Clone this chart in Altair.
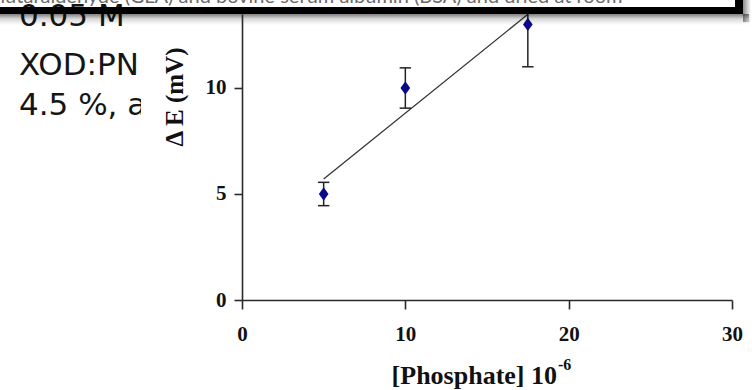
import altair as alt
import pandas as pd

# Measured response: potential change vs. phosphate concentration
conc = [5, 10, 17.5]
delta_e = [5, 10, 13]
err_low = [4.45, 9.05, 11.0]
err_high = [5.55, 10.95, 15.0]

x_ticks = [0, 10, 20, 30]
y_ticks = [0, 5, 10]

slide_lines = ["0.05 M", "XOD:PN", "4.5 %, a"]
box_caption = "glutaraldehyde (GLA) and bovine serum albumin (BSA) and dried at room"
x_title_main = "[Phosphate] 10"
x_title_exp = "-6"
y_title = "Δ E (mV)"

df = pd.DataFrame({"conc": conc, "dE": delta_e, "lo": err_low, "hi": err_high})
one = alt.Data(values=[{"k": 0}])

W, H = 490, 286
PAD_L, PAD_T = 242, 14
SERIF = "Liberation Serif"
SANS = "DejaVu Sans"

x_scale = alt.Scale(domain=[0, 30], nice=False, zero=True)
y_scale = alt.Scale(domain=[0, 13.49], nice=False, zero=True)

x_axis = alt.Axis(values=x_ticks, title=None, grid=False, format="d",
                  domainColor="#2a2a2a", domainWidth=1.6,
                  tickColor="#2a2a2a", tickWidth=1.6, tickSize=9,
                  labelFont=SERIF, labelFontWeight="bold", labelFontSize=21,
                  labelColor="#111111", labelPadding=14, labelFlush=False,
                  zindex=1)
y_axis = alt.Axis(values=y_ticks, title=None, grid=False, format="d",
                  domainColor="#2a2a2a", domainWidth=1.6,
                  tickColor="#2a2a2a", tickWidth=1.6, tickSize=8,
                  labelFont=SERIF, labelFontWeight="bold", labelFontSize=21,
                  labelColor="#111111", labelPadding=8, labelFlush=False,
                  zindex=1)


def px(x_abs):
    return x_abs - PAD_L


def py(y_abs):
    return y_abs - PAD_T


def X(field):
    return alt.X(field, scale=x_scale, axis=x_axis)


def Y(field):
    return alt.Y(field, scale=y_scale, axis=y_axis)


# slide text partly hidden behind the figure
left_y = [26, 75, 115]
left_text = [
    alt.Chart(one).mark_text(text=t, font=SANS, fontSize=31, color="#151515",
                             align="left", baseline="alphabetic")
    .encode(x=alt.value(px(19)), y=alt.value(py(yy)))
    for t, yy in zip(slide_lines, left_y)
]

caption = alt.Chart(one).mark_text(
    text=box_caption, font="Lato", fontSize=20, color="#6a6a6a",
    align="left", baseline="alphabetic"
).encode(x=alt.value(px(-10)), y=alt.value(py(3)))

# white figure background covering the slide text
mask = alt.Chart(one).mark_rect(color="white").encode(
    x=alt.value(px(141)), x2=alt.value(0),
    y=alt.value(py(20)), y2=alt.value(py(390)))

base = alt.Chart(df)

fit = base.transform_regression("conc", "dE").mark_line(
    color="#333333", strokeWidth=1.3, clip=True
).encode(x=X("conc:Q"), y=Y("dE:Q"))

bars = base.mark_rule(color="#222222", strokeWidth=1.5, clip=True).encode(
    x=X("conc:Q"), y=Y("lo:Q"), y2="hi:Q")

caps = base.transform_calculate(
    xl="datum.conc - 0.35", xr="datum.conc + 0.35")
cap_lo = caps.mark_rule(color="#222222", strokeWidth=1.5, clip=True).encode(
    x=X("xl:Q"), x2="xr:Q", y=Y("lo:Q"))
cap_hi = caps.mark_rule(color="#222222", strokeWidth=1.5, clip=True).encode(
    x=X("xl:Q"), x2="xr:Q", y=Y("hi:Q"))

points = base.mark_point(
    shape="M0,-1L0.72,0L0,1L-0.72,0Z", filled=True, size=180,
    color="#0a0a88", opacity=1
).encode(x=X("conc:Q"), y=Y("dE:Q"))

x_title = alt.Chart(one).mark_text(
    text=x_title_main, font=SERIF, fontWeight="bold", fontSize=26,
    color="#111111", align="right", baseline="alphabetic"
).encode(x=alt.value(px(557)), y=alt.value(py(384)))
x_title_sup = alt.Chart(one).mark_text(
    text=x_title_exp, font=SERIF, fontWeight="bold", fontSize=16,
    color="#111111", align="left", baseline="alphabetic"
).encode(x=alt.value(px(558)), y=alt.value(py(370)))
y_title_mark = alt.Chart(one).mark_text(
    text=y_title, font=SERIF, fontWeight="bold", fontSize=25,
    color="#111111", align="center", baseline="middle", angle=270
).encode(x=alt.value(px(175)), y=alt.value(py(97)))

# framed caption box above the figure, with its drop shadow
shadow = alt.Chart(one).mark_rect(
    color=alt.Gradient(gradient="linear",
                       stops=[alt.GradientStop(color="rgba(0,0,0,0.5)", offset=0),
                              alt.GradientStop(color="rgba(0,0,0,0.15)", offset=0.45),
                              alt.GradientStop(color="rgba(0,0,0,0)", offset=1)],
                       x1=0, x2=0, y1=0, y2=1)
).encode(x=alt.value(px(0)), x2=alt.value(px(749)),
         y=alt.value(py(14)), y2=alt.value(py(25)))
shadow_side = alt.Chart(one).mark_rect(
    color=alt.Gradient(gradient="linear",
                       stops=[alt.GradientStop(color="rgba(0,0,0,0.45)", offset=0),
                              alt.GradientStop(color="rgba(0,0,0,0)", offset=1)],
                       x1=0, x2=1, y1=0, y2=0)
).encode(x=alt.value(px(743)), x2=alt.value(px(751)),
         y=alt.value(py(0)), y2=alt.value(py(22)))
band = alt.Chart(one).mark_rect(color="black").encode(
    x=alt.value(px(0)), x2=alt.value(px(743)),
    y=alt.value(py(7)), y2=alt.value(py(14)))
border = alt.Chart(one).mark_rect(color="black").encode(
    x=alt.value(px(735)), x2=alt.value(px(743)),
    y=alt.value(py(0)), y2=alt.value(py(14)))

chart = alt.layer(
    *left_text, caption, mask, fit, bars, cap_lo, cap_hi, points,
    x_title, x_title_sup, y_title_mark, shadow_side, shadow, band, border
).properties(
    width=W, height=H,
    padding={"left": PAD_L, "top": PAD_T, "right": 752 - PAD_L - W,
             "bottom": 390 - PAD_T - H},
    autosize="none",
    background="white",
).configure_view(stroke=None)

chart.save("out.html", embed_options={"renderer": "svg", "actions": False})
